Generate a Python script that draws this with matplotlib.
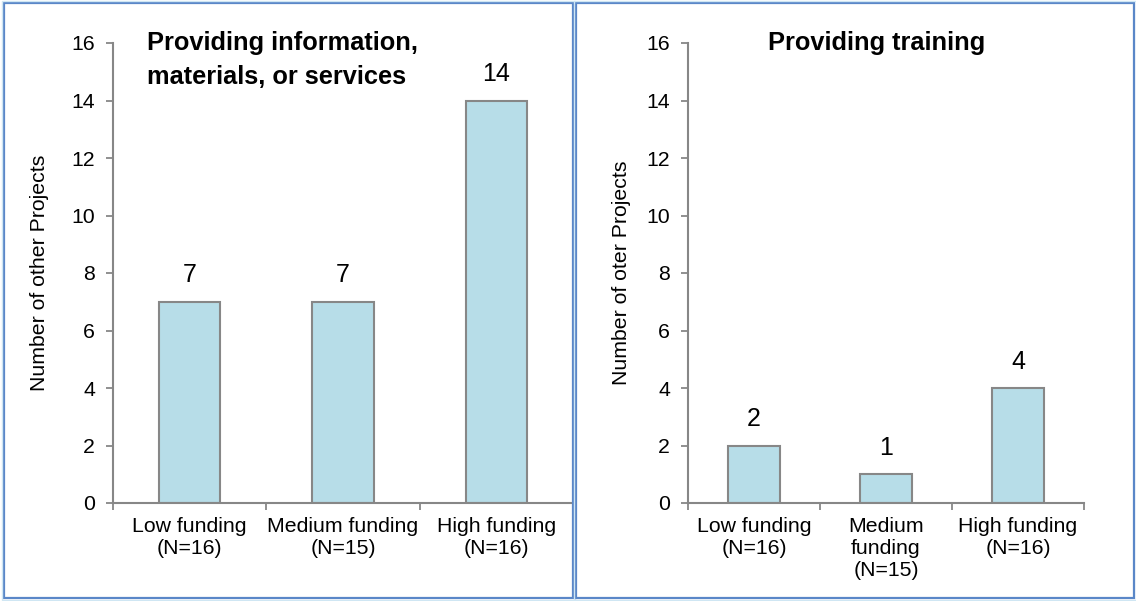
import matplotlib.pyplot as plt
from matplotlib.patches import Rectangle

plt.rcParams['font.family'] = ['Liberation Sans', 'DejaVu Sans']

info_labels = ['Low funding\n(N=16)', 'Medium funding\n(N=15)', 'High funding\n(N=16)']
info_counts = [7, 7, 14]
train_labels = ['Low funding\n(N=16)', 'Medium\nfunding\n(N=15)', 'High funding\n(N=16)']
train_counts = [2, 1, 4]

bar_color = '#b7dde8'
edge_gray = '#878787'
W, H = 1136, 601

fig = plt.figure(figsize=(W / 100, H / 100), dpi=100)

# blue frames around each chart
for x0, x1 in [(4, 573), (576, 1134)]:
    fig.patches.append(Rectangle((x0 / W, 3 / H), (x1 - x0) / W, 595 / H,
                                 transform=fig.transFigure, fill=False,
                                 edgecolor='#5a87c8', linewidth=1.6))
    fig.patches.append(Rectangle(((x0 - 2) / W, 1 / H), (x1 - x0 + 4) / W, 599 / H,
                                 transform=fig.transFigure, fill=False,
                                 edgecolor='#cfe6f3', linewidth=1.0))


def panel(rect, labels, counts, ylabel, ypad):
    ax = fig.add_axes([rect[0] / W, 1 - rect[3] / H, (rect[2] - rect[0]) / W,
                       (rect[3] - rect[1]) / H])
    x = range(len(counts))
    ax.bar(x, counts, width=0.4, color=bar_color, edgecolor=edge_gray, linewidth=1.5)
    for xi, c in zip(x, counts):
        ax.text(xi, c + 0.92, str(c), ha='center', va='center', fontsize=18)
    ax.set_xlim(-0.5, len(counts) - 0.5)
    ax.set_ylim(0, 16)
    ax.set_yticks(range(0, 17, 2))
    ax.set_xticks([i - 0.5 for i in range(len(counts) + 1)])
    ax.set_xticklabels([])
    ax.set_xticks(list(x), labels, minor=True)
    ax.tick_params(axis='x', which='minor', length=0, labelsize=15.3, pad=10)
    ax.tick_params(axis='x', which='major', length=5, color=edge_gray, width=1.3)
    ax.tick_params(axis='y', length=5, color=edge_gray, width=1.3, labelsize=15.3, pad=8)
    for lbl in ax.get_xticklabels(minor=True):
        lbl.set_horizontalalignment('center')
        lbl.set_linespacing(1.2)
    for s in ['top', 'right']:
        ax.spines[s].set_visible(False)
    for s in ['left', 'bottom']:
        ax.spines[s].set_color(edge_gray)
        ax.spines[s].set_linewidth(1.5)
    ax.set_ylabel(ylabel, fontsize=15.3, labelpad=ypad)
    return ax


ax1 = panel((113, 43, 573, 503), info_labels, info_counts, 'Number of other Projects', 16)
ax2 = panel((688, 43, 1084, 503), train_labels, train_counts, 'Number of oter Projects', 11)

fig.text(147 / W, 1 - 60 / H, 'Providing information,\nmaterials, or services',
         ha='left', va='center', fontsize=18.3, fontweight='bold', linespacing=1.55)
fig.text(877 / W, 1 - 43 / H, 'Providing training',
         ha='center', va='center', fontsize=18.3, fontweight='bold')

fig.savefig('out.png', dpi=100)
